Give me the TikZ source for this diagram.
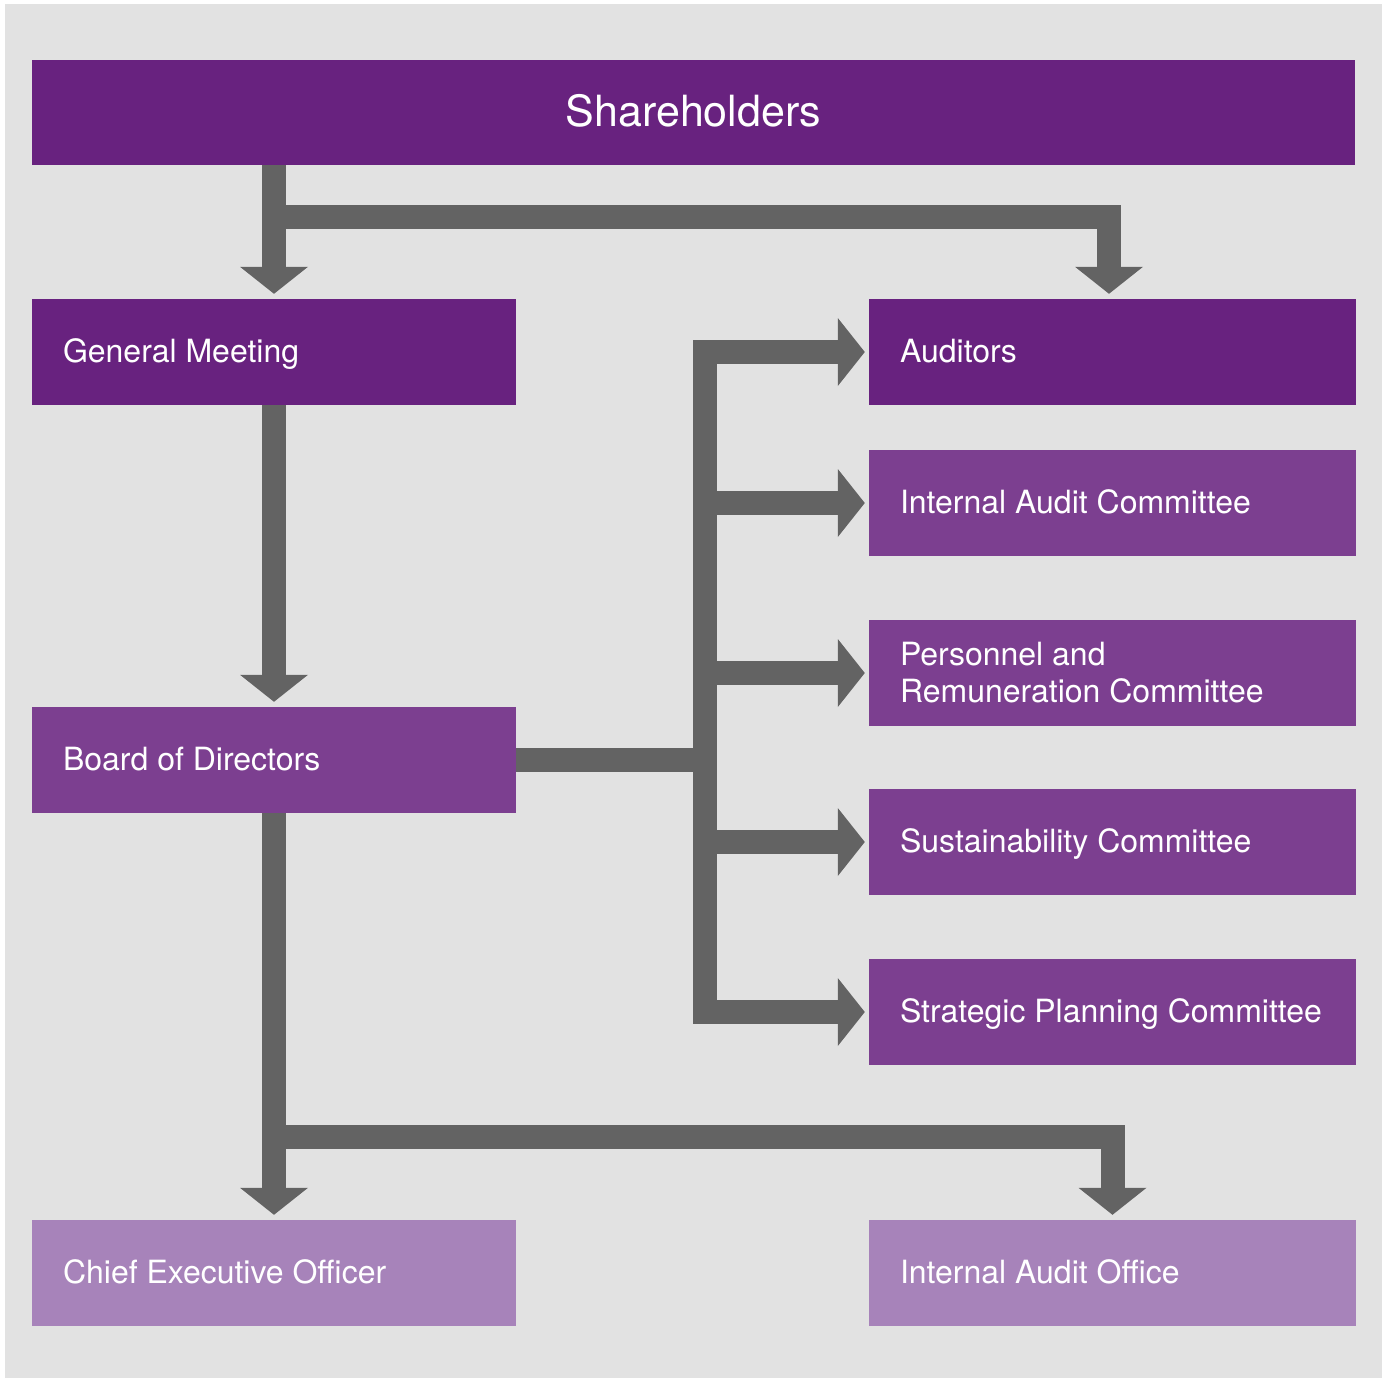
\documentclass[tikz,border=0pt]{standalone}
\usepackage{fontspec}
\setmainfont{TeX Gyre Heros}
\usetikzlibrary{arrows.meta}
\definecolor{bgray}{HTML}{E2E2E2}
\definecolor{pdark}{HTML}{68227F}
\definecolor{pmid}{HTML}{7C3F90}
\definecolor{plight}{HTML}{A783BA}
\definecolor{agray}{HTML}{636363}
\begin{document}
\begin{tikzpicture}[x=1pt,y=-1pt,
  box/.style={rectangle, inner ysep=0pt, inner xsep=31pt, minimum height=106pt,
    text=white, align=flush left, font=\fontsize{32}{37}\selectfont},
  oneline/.style={text height=24pt, text depth=4pt},
  leftbox/.style={box, text width=422pt},
  rightbox/.style={box, text width=425pt},
  conn/.style={draw=agray, line width=24pt, line join=miter},
  arr/.style={conn, -{Triangle[width=68pt,length=27pt,line width=0pt]}},
]
\useasboundingbox (0,0) rectangle (1384,1379);
\fill[white] (0,0) rectangle (1384,1379);
\fill[bgray] (5,4) rectangle (1382,1378);

\node[box, fill=pdark, minimum width=1323pt, minimum height=105pt, text width=1261pt, align=center,
  font=\fontsize{43}{48}\selectfont, text height=31pt, text depth=3pt] (sh) at (693.5,112.5) {Shareholders};

\node[leftbox, oneline, fill=pdark] (gm) at (274,352) {General Meeting};
\node[leftbox, oneline, fill=pmid] (bd) at (274,760) {Board of Directors};
\node[leftbox, oneline, fill=plight] (ceo) at (274,1273) {Chief Executive Officer};

\node[rightbox, oneline, fill=pdark] (aud) at (1112.5,352) {Auditors};
\node[rightbox, oneline, fill=pmid] (iac) at (1112.5,503) {Internal Audit Committee};
\node[rightbox, fill=pmid] (prc) at (1112.5,673) {Personnel and\\Remuneration Committee};
\node[rightbox, oneline, fill=pmid] (sus) at (1112.5,842) {Sustainability Committee};
\node[rightbox, oneline, fill=pmid] (spc) at (1112.5,1012) {\mbox{Strategic Planning Committee}};
\node[rightbox, oneline, fill=plight] (iao) at (1112.5,1273) {Internal Audit Office};

\coordinate (j1) at (274,217);
\coordinate (t1) at (1109,217);
\coordinate (tr) at (705,760);
\coordinate (j2) at (274,1137);
\coordinate (t2) at (1112.5,1137);

% Shareholders
\draw[arr, shorten >=5pt] (sh.south -| gm.north) -- (gm.north);
\draw[arr, shorten >=5pt] (j1) -- (t1) -- (t1 |- aud.north);
% General Meeting to Board
\draw[arr, shorten >=5pt] (gm.south) -- (bd.north);
% Board to committees
\draw[conn] (bd.east) -- (tr);
\draw[arr, shorten >=4pt] (tr) -- (tr |- aud.west) -- (aud.west);
\draw[arr, shorten >=4pt] (tr |- iac.west) -- (iac.west);
\draw[arr, shorten >=4pt] (tr |- prc.west) -- (prc.west);
\draw[arr, shorten >=4pt] (tr |- sus.west) -- (sus.west);
\draw[arr, shorten >=4pt] (tr) -- (tr |- spc.west) -- (spc.west);
% Board to CEO and IAO
\draw[arr, shorten >=5pt] (bd.south) -- (ceo.north);
\draw[arr, shorten >=5pt] (j2) -- (t2) -- (iao.north);
\end{tikzpicture}
\end{document}
